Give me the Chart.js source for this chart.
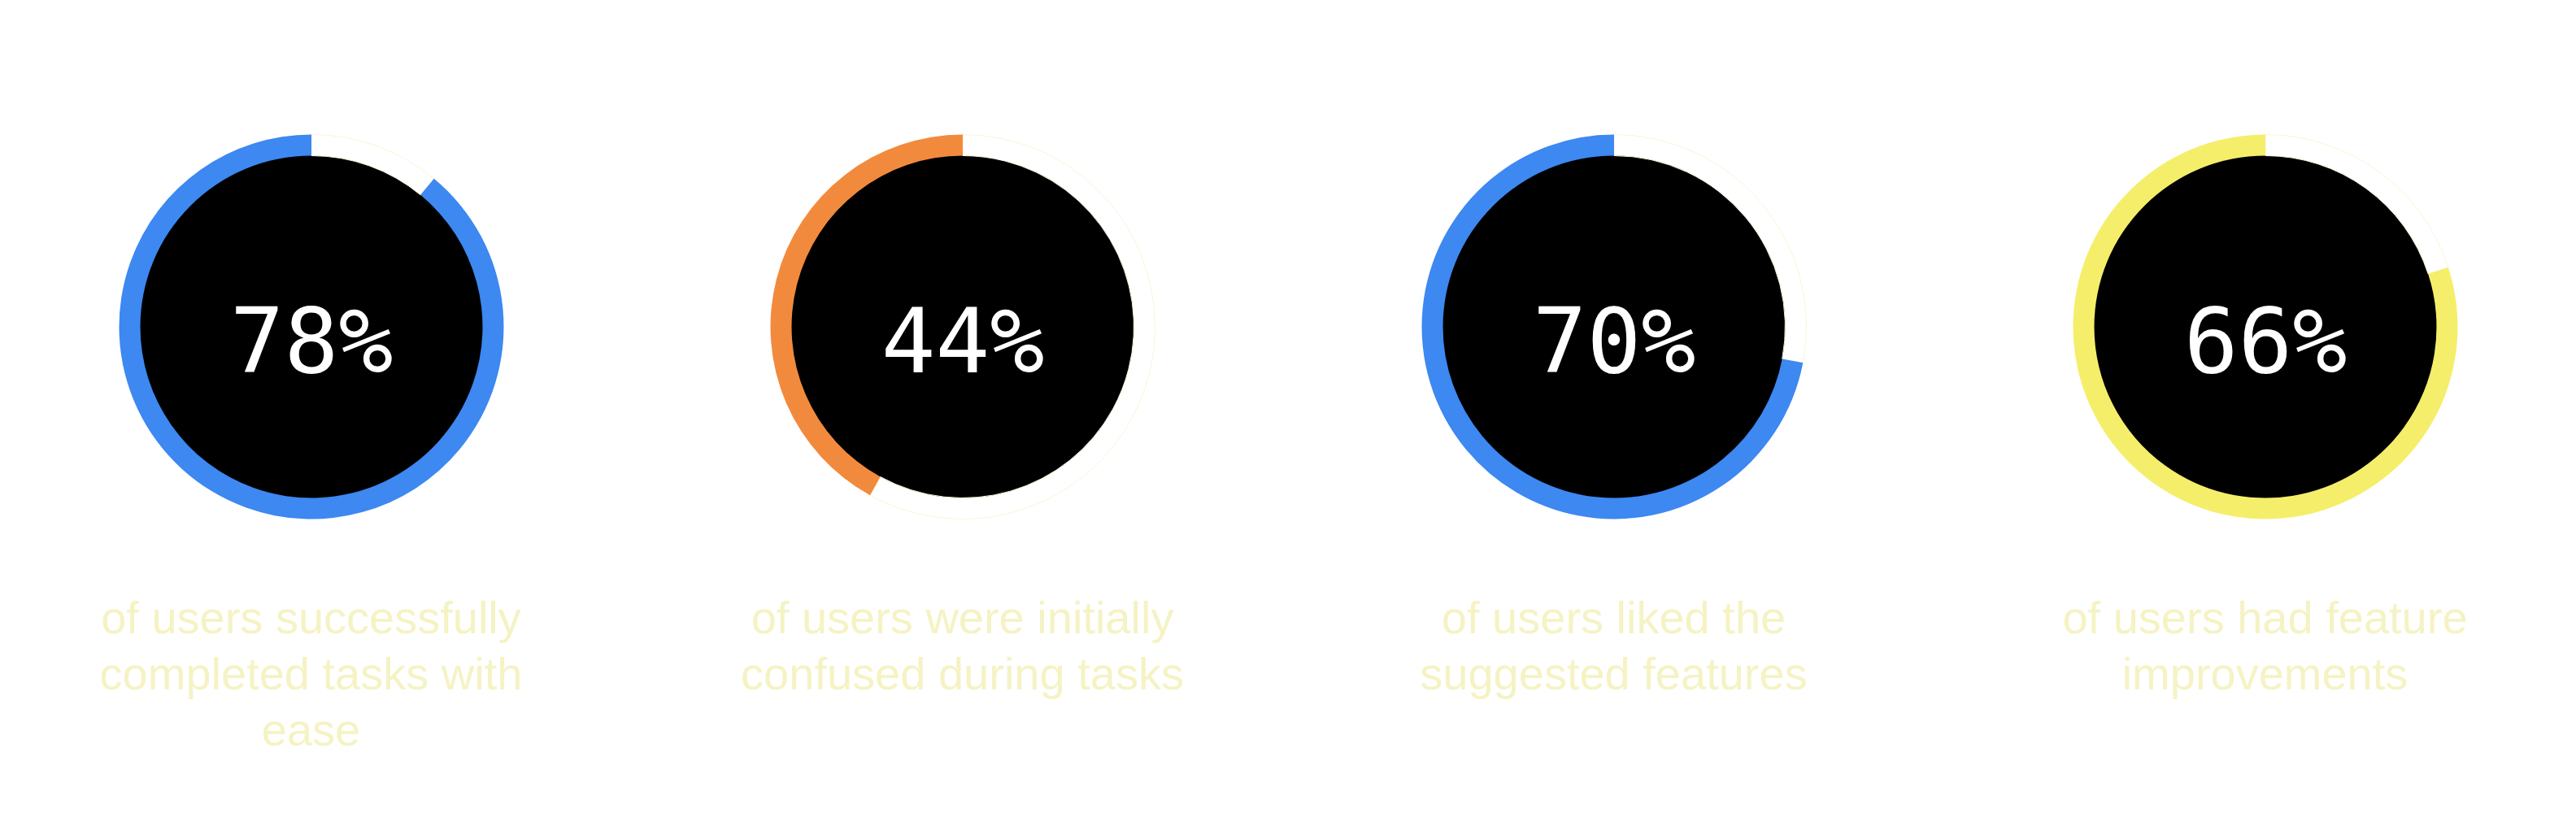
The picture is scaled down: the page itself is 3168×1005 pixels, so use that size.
<!DOCTYPE html>
<html>
<head>
<meta charset="utf-8">
<script src="https://cdn.jsdelivr.net/npm/chart.js@4.4.1/dist/chart.umd.min.js"></script>
<style>
  html, body { margin: 0; padding: 0; background: #ffffff; }
  body { width: 3168px; height: 1005px; overflow: hidden; }
  .row {
    display: flex;
    justify-content: center;
    gap: 241px;
    padding-top: 165px;
  }
  .card { width: 560px; display: flex; flex-direction: column; align-items: center; }
  .ring { width: 474px; height: 474px; position: relative; }
  .caption {
    width: 600px;
    margin-top: 86px;
    text-align: center;
    font-family: "Liberation Sans", Arial, sans-serif;
    font-size: 56px;
    line-height: 69px;
    color: #f5f3c4;
  }
</style>
</head>
<body>
<div class="row" id="row"></div>

<script>
// Stat shown in the middle of each ring
const statLabels = ['78%', '44%', '70%', '66%'];
// How much of each ring is coloured, as drawn (percent)
const ringValues = [89, 42, 72, 80];
const ringColors = ['#3d88f1', '#f28a3d', '#3d88f1', '#f5ee6a'];
const captions = [
    'of users successfully completed tasks with ease',
    'of users were initially confused during tasks',
    'of users liked the suggested features',
    'of users had feature improvements'
];

// Fills the hole black and writes the stat on top
const centerStat = {
    id: 'centerStat',
    beforeDatasetsDraw(chart) {
        const arc = chart.getDatasetMeta(0).data[0];
        if (!arc) return;
        const ctx = chart.ctx;
        ctx.save();
        ctx.beginPath();
        ctx.arc(arc.x, arc.y, arc.innerRadius + 1, 0, Math.PI * 2);
        ctx.fillStyle = '#000000';
        ctx.fill();
        ctx.restore();
    },
    afterDatasetsDraw(chart, args, opts) {
        const arc = chart.getDatasetMeta(0).data[0];
        if (!arc) return;
        const ctx = chart.ctx;
        const size = arc.outerRadius * 0.47;
        ctx.save();
        ctx.font = '300 ' + size + 'px "DejaVu Sans Mono", monospace';
        ctx.fillStyle = '#ffffff';
        ctx.textAlign = 'center';
        ctx.textBaseline = 'alphabetic';
        ctx.fillText(opts.text, arc.x, arc.y + size * 0.5);
        ctx.restore();
    }
};

const row = document.getElementById('row');

statLabels.forEach((stat, i) => {
    const card = document.createElement('div');
    card.className = 'card';
    const box = document.createElement('div');
    box.className = 'ring';
    const canvas = document.createElement('canvas');
    box.appendChild(canvas);
    const cap = document.createElement('div');
    cap.className = 'caption';
    cap.textContent = captions[i];
    card.appendChild(box);
    card.appendChild(cap);
    row.appendChild(card);

    // white part first so the coloured part ends at 12 o'clock
    new Chart(canvas.getContext('2d'), {
        type: 'doughnut',
        data: {
            labels: ['rest', 'value'],
            datasets: [{
                data: [100 - ringValues[i], ringValues[i]],
                backgroundColor: ['#ffffff', ringColors[i]],
                borderColor: ['#f7f5d6', ringColors[i]],
                borderWidth: [1, 0]
            }]
        },
        options: {
            responsive: true,
            maintainAspectRatio: false,
            animation: false,
            cutout: '89%',
            layout: { padding: 0 },
            plugins: {
                legend: { display: false },
                tooltip: { enabled: false },
                centerStat: { text: stat }
            }
        },
        plugins: [centerStat]
    });
});
</script>
</body>
</html>
